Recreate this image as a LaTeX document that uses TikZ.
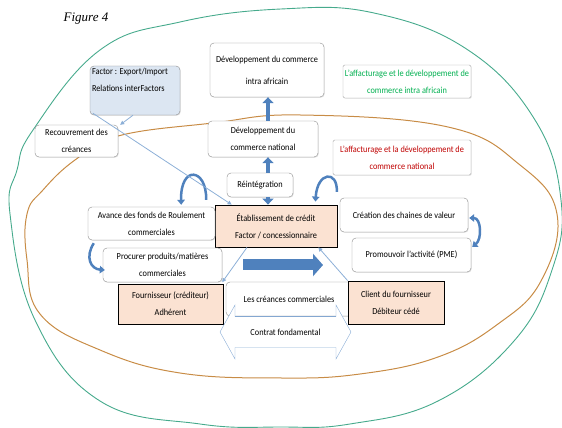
\documentclass[tikz,border=0pt]{standalone}
\usepackage{fontspec}
\setmainfont{Carlito}[FakeStretch=0.9]
\newfontfamily\figfont{Liberation Serif}
\usetikzlibrary{backgrounds,arrows.meta,shadows}
\definecolor{arrowblue}{RGB}{79,129,189}
\definecolor{lineblue}{RGB}{140,175,215}
\definecolor{peach}{RGB}{251,226,210}
\definecolor{factorblue}{RGB}{220,230,242}
\definecolor{outergreen}{RGB}{70,170,140}
\definecolor{innerorange}{RGB}{200,140,70}
\definecolor{labelgreen}{RGB}{0,176,80}
\definecolor{labelred}{RGB}{192,0,0}

\begin{document}
\begin{tikzpicture}[x=1pt, y=1pt,
    font=\fontsize{9.2}{17}\selectfont,
    whitebox/.style={draw=black!45, fill=white, rounded corners=4pt, align=center, inner sep=0pt,
      drop shadow={opacity=0.2, shadow xshift=0.8pt, shadow yshift=-0.8pt}},
    peachbox/.style={draw=black, thick, fill=peach, align=center, inner sep=0pt},
    labelbox/.style={draw=black!35, fill=white, rounded corners=1.5pt, align=center, inner sep=0pt,
      drop shadow={opacity=0.15, shadow xshift=0.8pt, shadow yshift=-0.8pt}},
    bigarrow/.style={arrowblue, line width=4.5pt, -{Triangle[width=11pt,length=6pt]}},
    looparrow/.style={arrowblue, line width=2.5pt, -{Triangle[width=7.5pt,length=5pt]}},
    thinarrow/.style={lineblue, line width=0.8pt, -{Triangle[width=4pt,length=4pt]}}]

      \useasboundingbox (0, 0) rectangle (562, 428);

      \draw (86, 409) node (figlabel) {\figfont\itshape\fontsize{13}{15}\selectfont Figure 4};

      \draw (267, 358) node [whitebox, minimum width=114, minimum height=54] (devintra)
      {D\'eveloppement du commerce\\[5pt]intra africain};
      \draw (135, 337.5) node [whitebox, fill=factorblue, minimum width=90, minimum height=49] (factor)
      {\parbox[t][45pt][t]{86pt}{Factor : Export/Import\\Relations interFactors}};
      \draw (76.5, 287) node [whitebox, minimum width=83, minimum height=32] (recouv)
      {Recouvrement des\\cr\'eances};
      \draw (407, 346.5) node [labelbox, text=labelgreen, minimum width=128, minimum height=33] (greenlbl)
      {L’affacturage et le d\'eveloppement de\\commerce intra africain};

      \draw (263, 289) node [whitebox, minimum width=110, minimum height=36] (devnat)
      {D\'eveloppement du\\commerce national};
      \draw (402, 270.5) node [labelbox, text=labelred, minimum width=138, minimum height=35] (redlbl)
      {L’affacturage et la d\'eveloppement de\\commerce national};
      \draw (260, 243) node [whitebox, minimum width=66, minimum height=24] (reint) {R\'eint\'egration};

      \draw (276, 202) node [peachbox, minimum width=122, minimum height=42] (etab)
      {\'Etablissement de cr\'edit\\Factor / concessionnaire};
      \draw (151.5, 204.5) node [whitebox, minimum width=127, minimum height=33] (avance)
      {Avance des fonds de Roulement\\commerciales};
      \draw (162.5, 163) node [whitebox, minimum width=119, minimum height=34] (procurer)
      {Procurer produits/mati\`eres\\commerciales};
      \draw (404, 213) node [whitebox, minimum width=128, minimum height=34] (creation)
      {Cr\'eation des chaines de valeur};
      \draw (411.5, 173) node [whitebox, minimum width=119, minimum height=34] (promouvoir)
      {Promouvoir l’activit\'e (PME)};

      \draw (170.5, 124) node [peachbox, minimum width=105, minimum height=40] (fournisseur)
      {Fournisseur (cr\'editeur)\\Adh\'erent};
      \draw (289, 129) node [whitebox, minimum width=126, minimum height=34] (creances)
      {Les cr\'eances commerciales};
      \draw (396, 125.5) node [peachbox, minimum width=96, minimum height=43] (client)
      {Client du fournisseur\\D\'ebiteur c\'ed\'e};

      % double block arrow under the receivables
      \draw [lineblue, fill=white] (220, 96) -- (235, 123) -- (235, 111.5) -- (336, 111.5)
        -- (336, 123) -- (351, 96) -- (336, 69) -- (336, 80.5) -- (235, 80.5) -- (235, 69) -- cycle;
      \draw [arrowblue!70, line width=0.8pt] (235, 111.5) -- (336, 111.5);
      \draw (285.5, 96) node (contrat) {Contrat fondamental};

      %%%%%%%%%%%%%%%%%%%%%%%%%%%%%%%%%%%%%%%%%%%%%%%%%%%%%%%%%%%%%%
      % Arrows
      %%%%%%%%%%%%%%%%%%%%%%%%%%%%%%%%%%%%%%%%%%%%%%%%%%%%%%%%%%%%%%
      \draw [bigarrow] ([xshift=5pt]devnat.north) -- ([xshift=1pt]devintra.south);
      \draw [bigarrow] ([xshift=8pt]reint.north) -- ([xshift=5pt]devnat.south);
      \draw [bigarrow] ([xshift=8pt]reint.south) -- ([xshift=-8pt]etab.north);

      \coordinate (flowstart) at (243, 163);
      \coordinate (flowend) at (323, 163);
      \draw [arrowblue, line width=11pt, -{Triangle[width=22pt,length=10pt]}] (flowstart) -- (flowend);

      \draw [looparrow] ([xshift=-9pt,yshift=7pt]avance.north east)
      .. controls +(0.5,32) and +(-1,40) .. ([xshift=-34pt,yshift=2pt]avance.north east);
      \draw [looparrow] ([xshift=6pt,yshift=-3pt]avance.south west)
      .. controls +(-9,-14) and +(-14,1) .. ([xshift=2pt,yshift=-5pt]procurer.west);
      \draw [looparrow] ([xshift=-3pt,yshift=6pt]creation.north west)
      .. controls +(1,22) and +(2,30) .. ([xshift=-22pt,yshift=3pt]etab.north east);
      \draw [looparrow, {Triangle[width=7.5pt,length=5pt]}-{Triangle[width=7.5pt,length=5pt]}]
      ([xshift=1pt,yshift=-3pt]creation.east)
      .. controls +(12,0) and +(10,8) .. ([xshift=1pt,yshift=8pt]promouvoir.east);

      \draw [thinarrow] ([xshift=-2pt]factor.south) -- ([xshift=2pt]recouv.north east);
      \draw [thinarrow] ([xshift=3pt,yshift=2pt]factor.south west) -- ([xshift=17pt]etab.north west);
      \draw [thinarrow] ([xshift=-29pt]etab.south) -- (procurer.south east);
      \draw [thinarrow] (client.north west) -- ([xshift=-19pt]etab.south east);

      \begin{scope}[on background layer]
        \draw [outergreen, line width=0.9pt] plot [smooth cycle, tension=0.7] coordinates
        {(10,214) (17,258) (33,298) (100,378) (180,406) (281,419) (374,415) (468,378)
          (535,308) (561,228) (552,158) (514,87) (438,27) (350,4) (281,1) (200,4)
          (100,27) (35,108)};
      \end{scope}

      \begin{scope}[on background layer]
        \draw [innerorange, line width=1pt] plot [smooth cycle, tension=0.7] coordinates
        {(27,214) (43,238) (75,268) (118,292) (213,305) (300,313) (448,301) (520,263)
          (557,214) (541,147) (498,104) (438,71) (360,54) (281,50) (180,55) (100,78)
          (40,114) (27,168)};
      \end{scope}
    \end{tikzpicture}
\end{document}
